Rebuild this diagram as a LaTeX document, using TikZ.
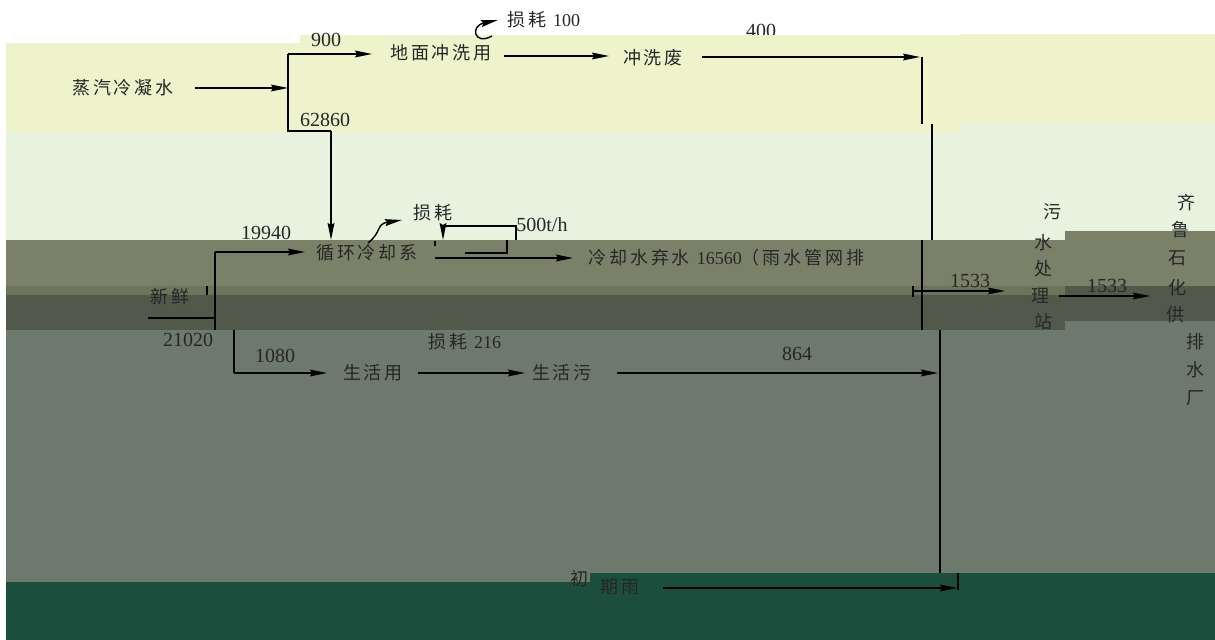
\documentclass[tikz,border=0pt]{standalone}
\usepackage{fontspec}
\usepackage{xcolor}
\usetikzlibrary{arrows.meta}
\newfontfamily\cjk[LetterSpace=16]{Noto Sans CJK SC}
\newfontfamily\numfont{Liberation Serif}

\definecolor{bandA}{RGB}{238,243,203}
\definecolor{bandB}{RGB}{231,242,223}
\definecolor{bandC}{RGB}{123,129,105}
\definecolor{bandS}{RGB}{110,115,91}
\definecolor{bandD}{RGB}{82,89,74}
\definecolor{bandG}{RGB}{110,121,109}
\definecolor{bandE}{RGB}{28,78,62}

\begin{document}
\begin{tikzpicture}[x=0.5pt,y=-0.5pt,
	flow/.style={line width=0.7pt,-{Stealth[length=8.5pt,width=3.4pt,inset=1pt]}},
	pipe/.style={line width=0.7pt},
	lbl/.style={font=\cjk\fontsize{9}{9}\selectfont,inner sep=0pt,text=black!85},
	num/.style={font=\numfont\fontsize{10}{10}\selectfont,inner sep=0pt,text=black!85}]
	\useasboundingbox (0,0) rectangle (1215,640);
	\fill[white] (0,0) rectangle (1215,640);

	% these two sit half under the bands
	\node[num] (washqty) at (761,31) {400};
	\node[num] (rainqty) at (805,571) {269};

	% background bands
	\fill[bandA] (6,43) rectangle (300,133);
	\fill[bandA] (300,35) rectangle (960,133);
	\fill[bandA] (960,34) rectangle (1215,124);
	\fill[bandB] (6,133) rectangle (960,240);
	\fill[bandB] (960,124) rectangle (1215,240);
	\fill[bandC] (6,240) rectangle (1065,286);
	\fill[bandC] (1065,231) rectangle (1215,286);
	\fill[bandS] (6,286) rectangle (1065,295);
	\fill[bandD] (6,295) rectangle (1065,330);
	\fill[bandD] (1065,286) rectangle (1215,321);
	\fill[bandG] (6,330) rectangle (1065,582);
	\fill[bandG] (1065,321) rectangle (1215,582);
	\fill[bandE] (6,582) rectangle (590,640);
	\fill[bandE] (590,573) rectangle (1215,640);

	% labels
	\node[lbl] (steam) at (123,88) {蒸汽冷凝水};
	\node[lbl] (wash) at (441,53) {地面冲洗用};
	\node[lbl] (washout) at (653,58) {冲洗废};
	\node[lbl,anchor=west] (loss1) at (507,20) {损耗 {\numfont 100}};
	\node[num] at (326,40) {900};
	\node[num] at (325,120) {62860};

	\node[num] at (266,233) {19940};
	\node[lbl] (cooling) at (367,253) {循环冷却系};
	\node[lbl] (loss2) at (433,213) {损耗};
	\node[num,anchor=west] at (516,225) {500t/h};
	\node[lbl,anchor=west] (coolout) at (588,258) {冷却水弃水 {\numfont 16560}（雨水管网排};

	\node[lbl] (fresh) at (170,297) {新鲜};
	\node[num] at (188,340) {21020};
	\node[num] at (275,356) {1080};
	\node[lbl] (living) at (373,373) {生活用};
	\node[lbl] (livingout) at (562,373) {生活污};
	\node[lbl,anchor=west] (loss3) at (428,342) {损耗 {\numfont 216}};
	\node[num] at (797,354) {864};

	\node[num] at (970,281) {1533};
	\node[num] at (1107,286) {1533};
	\node[lbl] (plant) at (1052,212) {污};
	\node[lbl] at (1043,243) {水};
	\node[lbl] at (1043,269) {处};
	\node[lbl] at (1040,296) {理};
	\node[lbl] at (1043,322) {站};

	\node[lbl] (qilu) at (1186,203) {齐};
	\node[lbl] at (1180,230) {鲁};
	\node[lbl] at (1177,258) {石};
	\node[lbl] at (1177,288) {化};
	\node[lbl] at (1175,315) {供};
	\node[lbl] at (1195,342) {排};
	\node[lbl] at (1195,370) {水};
	\node[lbl] at (1195,398) {厂};

	\node[lbl] (rain1) at (579,579) {初};
	\node[lbl] (rain) at (620,587) {期雨};

	% junctions and ends
	\coordinate (s0) at (195,88);
	\coordinate (s1) at (288,88);
	\coordinate (s2) at (288,54);
	\coordinate (s3) at (288,131);
	\coordinate (s4) at (331,131);
	\coordinate (w0) at (372,54);
	\coordinate (c0) at (331,240);
	\coordinate (e0) at (922,57);
	\coordinate (e1) at (922,124);
	\coordinate (e2) at (932,124);
	\coordinate (e3) at (932,240);
	\coordinate (e4) at (922,240);
	\coordinate (e5) at (922,330);
	\coordinate (e6) at (940,330);
	\coordinate (e7) at (940,573);
	\coordinate (e8) at (958,573);
	\coordinate (e9) at (958,590);

	\draw[flow] (s0) -- (s1);
	\draw[pipe] (s2) -- (s3) -- (s4);
	\draw[flow] (s2) -- (w0);
	\draw[flow] (s4) -- (c0);
	\draw[flow] (504,56) -- (609,56);
	\draw[flow] (702,57) -- (920,57);
	\draw[pipe] (e0) -- (e1) (e2) -- (e3) (e4) -- (e5) (e6) -- (e7) (e8) -- (e9);
	\draw[flow] (492,36) .. controls (474,46) and (470,26) .. (498,20);

	% fresh water
	\draw[flow] (215,252) -- (305,252);
	\draw[pipe] (215,252) -- (215,330);
	\draw[pipe] (148,318) -- (215,318);
	\draw[pipe] (207,286) -- (207,295);
	\draw[pipe] (234,330) -- (234,373);
	\draw[flow] (234,373) -- (327,373);

	% cooling system
	\draw[flow] (368,243) .. controls (382,232) and (376,224) .. (402,220);
	\draw[pipe] (443,226) -- (516,226) -- (516,240);
	\draw[pipe] (507,240) -- (507,253) -- (465,253);
	\draw[flow] (443,226) -- (443,240);
	\draw[pipe] (435,241) -- (435,246);
	\draw[flow] (435,258) -- (573,258);

	% living water
	\draw[flow] (418,373) -- (525,373);
	\draw[flow] (617,373) -- (938,373);

	% to plant and out
	\draw[pipe] (913,286) -- (913,297);
	\draw[flow] (913,291) -- (1005,291);
	\draw[flow] (1059,296) -- (1150,296);
	\draw[flow] (663,588) -- (957,588);
\end{tikzpicture}
\end{document}
